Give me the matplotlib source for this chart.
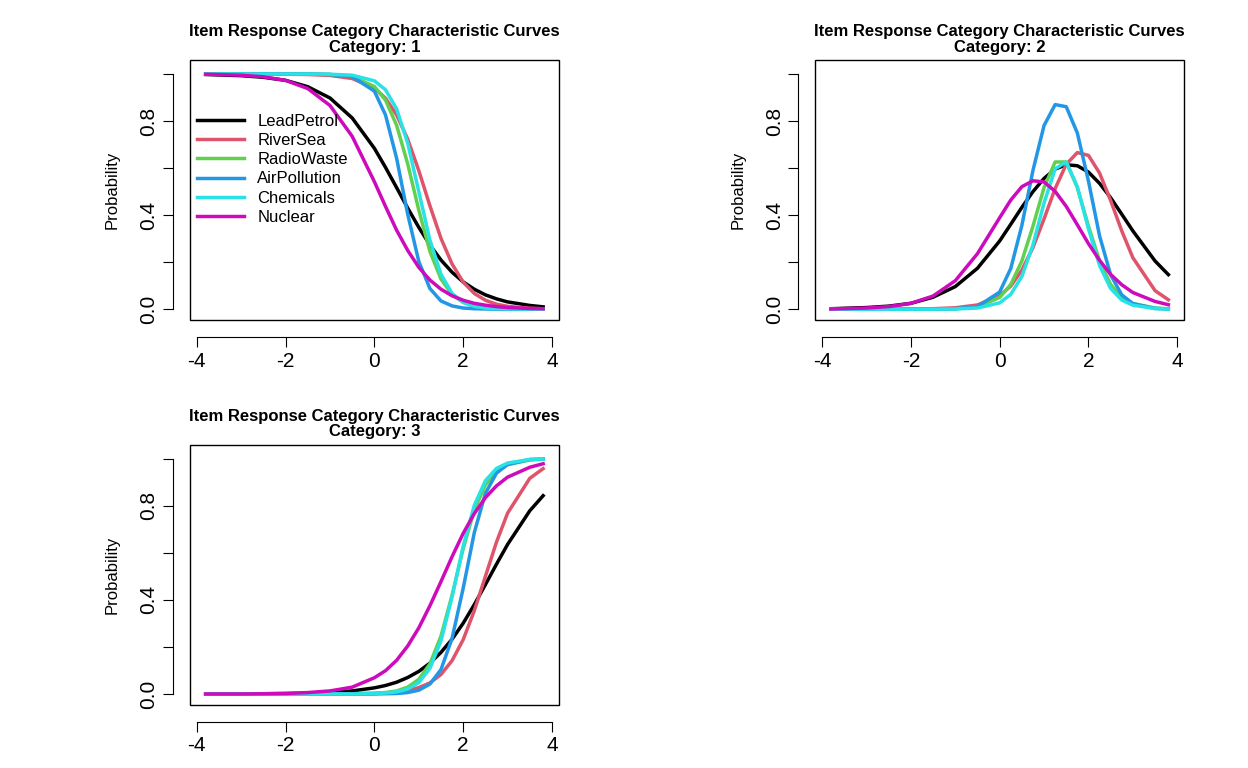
import numpy as np
import matplotlib
matplotlib.use("Agg")
from matplotlib import pyplot as plt
from matplotlib.patches import Rectangle

plt.rcParams['font.family'] = ['Liberation Sans', 'DejaVu Sans']
plt.rcParams['axes.unicode_minus'] = False

theta = [-3.8, -3, -2.5, -2, -1.5, -1, -0.5, 0, 0.25, 0.5, 0.75, 1, 1.25, 1.5, 1.75,
         2, 2.25, 2.5, 2.75, 3, 3.5, 3.8]
items = ['LeadPetrol', 'RiverSea', 'RadioWaste', 'AirPollution', 'Chemicals', 'Nuclear']
colors = ['#000000', '#DF536B', '#61D04F', '#2297E6', '#28E2E5', '#CD0BBC']

# category 1 probabilities
cat1_lead = [.998, .993, .986, .973, .946, .898, .813, .684, .603, .517, .430, .348, .273, .209, .157,
             .116, .085, .061, .044, .031, .016, .010]
cat1_river = [1, 1, 1, .999, .998, .994, .981, .940, .897, .826, .723, .589, .440, .301, .192,
              .115, .067, .038, .021, .012, .004, .002]
cat1_radio = [1, 1, 1, 1, 1, .998, .989, .947, .889, .782, .618, .421, .246, .128, .062,
              .029, .013, .006, .003, .001, 0, 0]
cat1_air = [1, 1, 1, 1, 1, .998, .989, .927, .826, .642, .404, .203, .088, .035, .014,
            .005, .002, .001, 0, 0, 0, 0]
cat1_chem = [1, 1, 1, 1, 1, .999, .995, .971, .933, .852, .706, .5, .294, .148, .067,
             .029, .012, .005, .002, .001, 0, 0]
cat1_nuc = [.999, .995, .988, .973, .938, .866, .735, .542, .437, .336, .250, .178, .124, .085, .057,
            .038, .025, .017, .011, .007, .003, .002]

# category 3 probabilities
cat3_lead = [0, 0, .001, .002, .003, .006, .013, .026, .036, .050, .070, .096, .131, .177, .233,
             .301, .380, .465, .552, .636, .779, .843]
cat3_river = [0, 0, 0, 0, 0, 0, .001, .002, .005, .008, .015, .027, .047, .083, .142,
              .231, .354, .5, .646, .769, .917, .958]
cat3_radio = [0, 0, 0, 0, 0, 0, .001, .003, .006, .013, .029, .062, .128, .246, .421,
              .618, .782, .889, .947, .975, .995, .998]
cat3_air = [0, 0, 0, 0, 0, 0, 0, 0, .001, .002, .006, .016, .042, .104, .237,
            .450, .686, .853, .939, .976, .997, .999]
cat3_chem = [0, 0, 0, 0, 0, 0, 0, .002, .004, .009, .021, .048, .109, .226, .413,
             .629, .802, .907, .959, .982, .997, .999]
cat3_nuc = [0, 0, .001, .002, .006, .013, .029, .069, .099, .143, .204, .281, .375, .478, .584,
            .683, .767, .835, .885, .922, .964, .979]

cat1 = [cat1_lead, cat1_river, cat1_radio, cat1_air, cat1_chem, cat1_nuc]
cat3 = [cat3_lead, cat3_river, cat3_radio, cat3_air, cat3_chem, cat3_nuc]
# middle category is what remains
cat2 = [list(1 - np.array(a) - np.array(b)) for a, b in zip(cat1, cat3)]

fig = plt.figure(figsize=(12.48, 7.68), dpi=100)
positions = [(0.152, 0.583), (0.653, 0.583), (0.152, 0.082)]
W, H = 0.296, 0.339

def setup_axes(pos, cat_no):
    ax = fig.add_axes([pos[0], pos[1], W, H])
    ax.set_xlim(-4.16, 4.16)
    ax.set_ylim(-0.047, 1.06)
    for s in ['top', 'right']:
        ax.spines[s].set_visible(False)
    ax.spines['bottom'].set_position(('outward', 12))
    ax.spines['left'].set_position(('outward', 12))
    ax.spines['bottom'].set_bounds(-4, 4)
    ax.spines['left'].set_bounds(0, 1)
    ax.add_patch(Rectangle((0, 0), 1, 1, transform=ax.transAxes, fill=False,
                           lw=1, edgecolor='black', clip_on=False))
    ax.set_xticks([-4, -2, 0, 2, 4])
    ax.set_yticks([0, 0.2, 0.4, 0.6, 0.8, 1.0])
    ax.set_yticklabels(['0.0', '', '0.4', '', '0.8', ''], rotation=90, va='center')
    ax.tick_params(labelsize=15, length=7, direction='out')
    ax.set_ylabel('Probability', fontsize=12, labelpad=14)
    ax.set_title(f'Item Response Category Characteristic Curves\nCategory: {cat_no}',
                 fontsize=12, fontweight='bold', pad=6, linespacing=1.05)
    return ax

for pos, data, cat_no in zip(positions, [cat1, cat2, cat3], [1, 2, 3]):
    ax = setup_axes(pos, cat_no)
    for name, col, vals in zip(items, colors, data):
        ax.plot(theta, vals, color=col, lw=2.5, label=name)
    if cat_no == 1:
        ax.legend(loc='upper left', bbox_to_anchor=(-0.02, 0.85), frameon=False,
                  fontsize=12, handlelength=2.8, labelspacing=0.25)

fig.savefig('out.png', dpi=100)
